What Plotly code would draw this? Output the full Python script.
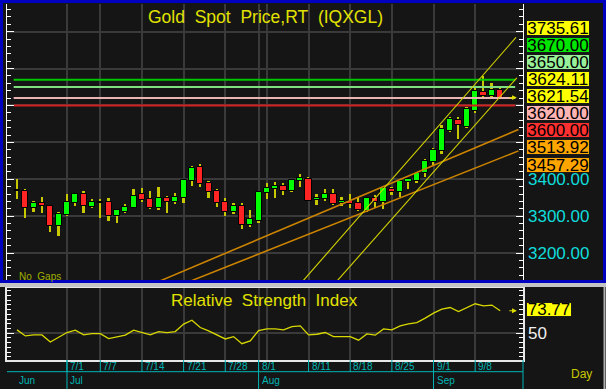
import plotly.graph_objects as go
import pandas as pd

W, H = 606, 389

# ---------------- data ----------------
dates = pd.bdate_range("2025-06-23", "2025-09-11")

opens = [3367, 3368, 3323, 3336, 3328, 3273, 3302, 3337, 3359, 3326,
         3339, 3338, 3300, 3312, 3323, 3359, 3346, 3322, 3348, 3339,
         3350, 3396, 3432, 3389, 3368, 3338, 3312, 3328, 3275, 3288,
         3362, 3373, 3382, 3369, 3396, 3400, 3343, 3346, 3359, 3335,
         3341, 3337, 3314, 3349, 3338, 3373, 3365, 3393, 3395, 3416,
         3446, 3477, 3532, 3561, 3542, 3586, 3637, 3627, 3642]
highs = [3400, 3374, 3341, 3353, 3330, 3312, 3359, 3364, 3369, 3346,
         3347, 3348, 3319, 3333, 3373, 3376, 3369, 3379, 3356, 3362,
         3402, 3437, 3442, 3395, 3374, 3348, 3336, 3336, 3316, 3366,
         3389, 3392, 3390, 3402, 3414, 3405, 3359, 3373, 3374, 3353,
         3359, 3351, 3353, 3357, 3380, 3380, 3398, 3403, 3421, 3456,
         3484, 3547, 3570, 3568, 3597, 3647, 3680, 3660, 3649]
lows = [3346, 3296, 3312, 3310, 3256, 3246, 3300, 3327, 3310, 3321,
        3296, 3286, 3282, 3308, 3321, 3339, 3319, 3317, 3310, 3333,
        3337, 3383, 3380, 3350, 3326, 3301, 3305, 3266, 3271, 3282,
        3347, 3350, 3357, 3366, 3380, 3341, 3330, 3341, 3330, 3328,
        3322, 3314, 3312, 3321, 3319, 3357, 3353, 3373, 3389, 3405,
        3439, 3469, 3529, 3509, 3538, 3579, 3624, 3622, 3620]
closes = [3371, 3323, 3336, 3327, 3273, 3305, 3339, 3359, 3327, 3339,
          3335, 3300, 3316, 3326, 3356, 3343, 3322, 3348, 3339, 3351,
          3398, 3431, 3386, 3366, 3337, 3312, 3328, 3276, 3292, 3365,
          3376, 3383, 3369, 3398, 3403, 3342, 3349, 3359, 3333, 3340,
          3334, 3316, 3348, 3338, 3377, 3366, 3396, 3401, 3416, 3449,
          3479, 3536, 3563, 3546, 3590, 3639, 3627, 3642, 3621.54]

rsi = [53.5, 47.1, 48.2, 48.2, 40.7, 45.7, 50.7, 53.2, 48.2, 49.6,
       49.6, 44.3, 46.4, 47.9, 53.2, 50.7, 48.2, 51.7, 50.7, 51.7,
       59.6, 63.8, 56.0, 52.4, 48.2, 43.9, 46.4, 38.9, 41.8, 52.8,
       54.6, 54.6, 53.5, 57.0, 57.8, 48.2, 48.9, 50.7, 46.4, 46.4,
       46.4, 42.6, 49.3, 47.9, 54.6, 53.5, 57.8, 59.9, 61.3, 66.0,
       71.3, 75.5, 77.2, 73.0, 77.2, 81.2, 79.0, 79.8, 73.77]

levels = [3670.00, 3650.00, 3620.00, 3600.00]
level_colors = ["#00c800", "#80e080", "#e8b4b4", "#d42020"]

# trend lines: (bar index, price) anchor pairs
channel_upper = [(34.3, 3124.0), (59.9, 3784.6)]
channel_lower = [(38.4, 3124.0), (60.0, 3675.1)]
trend_upper = [(17.1, 3124.0), (60.2, 3534.9)]
trend_lower = [(20.8, 3124.0), (60.2, 3477.0)]

right_labels = ["3735.61", "3670.00", "3650.00", "3624.11", "3621.54",
                "3620.00", "3600.00", "3513.92", "3457.29"]
right_label_colors = ["#ffff00", "#00e600", "#98f098", "#ffff00", "#ffff00",
                      "#ffb4b4", "#ff3030", "#ffa500", "#ffa500"]
axis_price_labels = [3400, 3300, 3200]
last_price = 3621.54
last_rsi = 73.77

tick_dates = ["2025-07-01", "2025-07-07", "2025-07-14", "2025-07-21", "2025-07-28",
              "2025-08-01", "2025-08-11", "2025-08-18", "2025-08-25", "2025-09-01",
              "2025-09-08"]
grid_dates = ["2025-07-01", "2025-07-07", "2025-07-14", "2025-07-21", "2025-07-28",
              "2025-08-01", "2025-08-04", "2025-08-11", "2025-08-18", "2025-08-25",
              "2025-09-01", "2025-09-08"]
month_starts = [("Jun", "2025-06-23"), ("Jul", "2025-07-01"),
                ("Aug", "2025-08-01"), ("Sep", "2025-09-01")]

# ---------------- helpers ----------------
def px(x):
    return x / W

def py(y):
    return 1 - y / H

date_index = {d.strftime("%Y-%m-%d"): i for i, d in enumerate(dates)}
idx = list(range(len(dates)))

FONT = "Liberation Sans, Arial, sans-serif"
BG = "#151515"
GRID = "#3a3a3a"
CYAN = "#00b4b4"
YEL = "#e2e200"

fig = go.Figure()

# wicks (narrow bars)
fig.add_trace(go.Bar(
    x=idx, y=[h - l for h, l in zip(highs, lows)], base=lows, width=0.22,
    marker=dict(color="#c8c800", line=dict(width=0)), xaxis="x", yaxis="y",
    hoverinfo="skip", showlegend=False))
# bodies
body_base = [min(o, c) for o, c in zip(opens, closes)]
body_h = [max(abs(c - o), 1.2) for o, c in zip(opens, closes)]
body_col = ["#00ff00" if c >= o else "#ff2424" for o, c in zip(opens, closes)]
fig.add_trace(go.Bar(
    x=idx, y=body_h, base=body_base, width=0.74,
    marker=dict(color=body_col, line=dict(color="#000000", width=1)),
    xaxis="x", yaxis="y", showlegend=False))

# horizontal levels
for lv, col in zip(levels, level_colors):
    fig.add_trace(go.Scatter(x=[-0.4, 59.8], y=[lv, lv], mode="lines",
                             line=dict(color=col, width=2), xaxis="x", yaxis="y",
                             showlegend=False, hoverinfo="skip"))

# trend lines
for seg, col, wd in [(trend_upper, "#cc8400", 1.6), (trend_lower, "#cc8400", 1.6),
                     (channel_upper, "#d4d400", 1.1), (channel_lower, "#d4d400", 1.1)]:
    fig.add_trace(go.Scatter(x=[p[0] for p in seg], y=[p[1] for p in seg], mode="lines",
                             line=dict(color=col, width=wd), xaxis="x", yaxis="y",
                             showlegend=False, hoverinfo="skip"))

# RSI
fig.add_trace(go.Scatter(x=idx, y=rsi, mode="lines", line=dict(color="#d8d800", width=1.3),
                         xaxis="x2", yaxis="y2", showlegend=False))

grid_idx = [date_index[d] for d in grid_dates]
xr = [-1.2, 60.74]
x_dom = [px(7), px(523)]

annotations = []
shapes = []

def txt_ann(text, x, y, size, color, xanchor="center", **kw):
    d = dict(text=text, x=x, y=y, xref=kw.pop("xref", "paper"), yref=kw.pop("yref", "paper"),
             xanchor=xanchor, yanchor="middle", showarrow=False,
             font=dict(family=FONT, size=size, color=color))
    d.update(kw)
    return d

# titles and notes
annotations.append(txt_ann("Gold\u00a0 Spot\u00a0 Price,RT\u00a0 (IQXGL)", px(265.5), py(17), 17.5, YEL))
annotations.append(txt_ann("Relative\u00a0 Strength\u00a0 Index", px(264), py(300), 17, YEL))
annotations.append(txt_ann("No\u00a0 Gaps", px(17), py(276), 10, "#a0b000", xanchor="left"))
annotations.append(txt_ann("Day", px(569), py(374), 12, "#c8c800", xanchor="left"))

# right stacked labels
for k, (txt, col) in enumerate(zip(right_labels, right_label_colors)):
    annotations.append(txt_ann(txt, px(525.5), py(27.7 + k * 17.1), 17, "#000000",
                               xanchor="left", bgcolor=col, bordercolor="#1a1a1a",
                               borderwidth=1, borderpad=0, width=62, height=14))
for v in axis_price_labels:
    annotations.append(txt_ann(f"{v:.2f}", px(525.5), v, 17, "#10dcdc",
                               xanchor="left", yref="y"))

# last-price arrows
annotations.append(dict(x=60.0, y=last_price, xref="x", yref="y", text="", showarrow=True,
                        ax=-9, ay=0, arrowhead=2, arrowsize=0.8, arrowwidth=1.2,
                        arrowcolor="#e0e000"))
annotations.append(dict(x=60.0, y=last_rsi, xref="x2", yref="y2", text="", showarrow=True,
                        ax=-9, ay=0, arrowhead=2, arrowsize=0.8, arrowwidth=1.2,
                        arrowcolor="#e0e000"))
annotations.append(txt_ann(f"{last_rsi:.2f}", px(525.5), last_rsi, 17, "#000000",
                           xanchor="left", yref="y2", yshift=1, bgcolor="#ffff00",
                           bordercolor="#1a1a1a", borderwidth=1, borderpad=0,
                           width=44, height=13))
annotations.append(txt_ann("50", px(525.5), 50, 17, "#f0f0f0", xanchor="left", yref="y2"))

# date tick labels and tick lines
for d in tick_dates:
    i = date_index[d]
    ts = pd.Timestamp(d)
    annotations.append(txt_ann(f"{ts.month}/{ts.day}", i, py(366.5), 10, CYAN,
                               xanchor="left", xref="x", xshift=1))
    shapes.append(dict(type="line", xref="x", yref="paper", x0=i, x1=i,
                       y0=py(360), y1=py(372), line=dict(color=CYAN, width=1)))
for name, d in month_starts:
    i = date_index[d]
    annotations.append(txt_ann(name, i, py(380), 10, CYAN, xanchor="left", xref="x",
                               xshift=1 if name != "Jun" else 0))
    if name != "Jun":
        shapes.append(dict(type="line", xref="x", yref="paper", x0=i, x1=i,
                           y0=py(360), y1=py(389), line=dict(color=CYAN, width=1)))

shapes.append(dict(type="line", xref="paper", yref="paper", x0=px(7), x1=px(523),
                   y0=py(371.7), y1=py(371.7), line=dict(color=CYAN, width=1)))
shapes.append(dict(type="line", xref="paper", yref="paper", x0=px(523), x1=px(523),
                   y0=py(360), y1=py(389), line=dict(color=CYAN, width=1)))
# panel frames
shapes.append(dict(type="rect", xref="paper", yref="paper", x0=px(0), x1=px(606),
                   y0=py(283), y1=py(287), fillcolor="#c4c4c4", line=dict(width=0)))
shapes.append(dict(type="rect", xref="paper", yref="paper", x0=px(1.5), x1=px(604.5),
                   y0=py(281.5), y1=py(1.5), line=dict(color="#0000c0", width=3)))
shapes.append(dict(type="line", xref="paper", yref="paper", x0=px(604.5), x1=px(604.5),
                   y0=py(287), y1=py(389), line=dict(color="#b0b0b0", width=2)))

fig.update_layout(
    width=W, height=H, margin=dict(l=0, r=0, t=0, b=0),
    paper_bgcolor=BG, plot_bgcolor=BG, barmode="overlay", bargap=0,
    showlegend=False, annotations=annotations, shapes=shapes,
    xaxis=dict(domain=x_dom, range=xr, anchor="y", tickmode="array", tickvals=grid_idx,
               showticklabels=False, ticks="", showgrid=True, gridcolor=GRID, gridwidth=1.5,
               zeroline=False, showline=False, fixedrange=True),
    yaxis=dict(domain=[py(281), py(4)], range=[3124.4, 3875], anchor="x",
               tickmode="linear", tick0=0, dtick=100, ticks="inside", ticklen=7,
               tickcolor="#ffffff", tickwidth=1, showticklabels=False,
               minor=dict(tickmode="linear", tick0=0, dtick=20, ticks="inside", ticklen=4,
                          tickcolor="#ffffff", tickwidth=1, showgrid=False),
               showgrid=True, gridcolor=GRID, gridwidth=1.5, zeroline=False,
               showline=True, linecolor="#ffffff", linewidth=1, mirror="ticks"),
    xaxis2=dict(domain=x_dom, range=xr, anchor="y2", matches="x", tickmode="array",
                tickvals=grid_idx, showticklabels=False, ticks="", showgrid=True,
                gridcolor=GRID, gridwidth=1.5, zeroline=False, showline=True,
                linecolor="#e8e8e8", linewidth=2, mirror=True),
    yaxis2=dict(domain=[py(360), py(288)], range=[21.6, 97.9], anchor="x2",
                tickmode="array", tickvals=[50], ticks="inside", ticklen=7,
                tickcolor="#ffffff", showticklabels=False,
                minor=dict(tickmode="linear", tick0=0, dtick=5, ticks="inside", ticklen=4,
                           tickcolor="#ffffff", showgrid=False),
                showgrid=True, gridcolor=GRID, gridwidth=1.5, zeroline=False,
                showline=True, linecolor="#e8e8e8", linewidth=2, mirror="ticks"),
)

fig.write_html("out.html")
